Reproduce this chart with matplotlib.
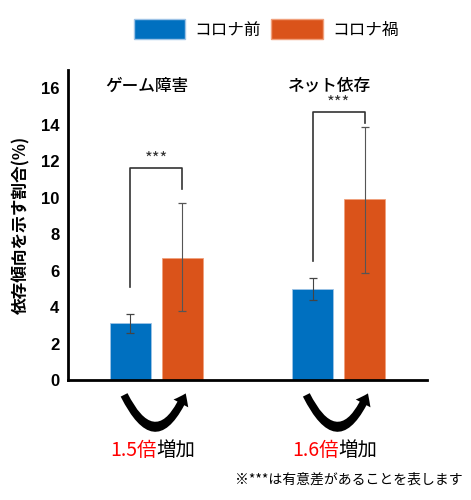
import numpy as np
import matplotlib
matplotlib.use('Agg')
import matplotlib.pyplot as plt
from matplotlib.patches import Patch
from matplotlib.transforms import blended_transform_factory

plt.rcParams['font.family'] = ['Noto Sans CJK JP', 'DejaVu Sans']

groups = ['ゲーム障害', 'ネット依存']
series = ['コロナ前', 'コロナ禍']
before = [3.1, 5.0]
before_lo = [2.6, 4.4]
before_hi = [3.6, 5.6]
during = [6.7, 9.9]
during_lo = [3.8, 5.85]
during_hi = [9.7, 13.9]
ratio = ['1.5', '1.6']
# *** bracket: left leg bottom, top, right leg bottom
br_left = [5.1, 6.55]
br_top = [11.6, 14.7]
br_right = [10.5, 14.1]
yticks = [0, 2, 4, 6, 8, 10, 12, 14, 16]

c_before = '#0070C0'
c_during = '#DA531A'

fig = plt.figure(figsize=(4.71, 5.0), dpi=100)
ax = fig.add_axes([0.144, 0.24, 0.763, 0.62])

x = np.arange(len(groups))
off = 0.143
w = 0.225

def err(v, lo, hi):
    return [np.array(v) - np.array(lo), np.array(hi) - np.array(v)]

ax.bar(x - off, before, w, color=c_before, edgecolor='#9ec3e6', linewidth=0.6, zorder=2)
ax.bar(x + off, during, w, color=c_during, edgecolor='#f0a07c', linewidth=0.6, zorder=2)
ax.errorbar(x - off, before, yerr=err(before, before_lo, before_hi), fmt='none',
            ecolor='#444444', elinewidth=0.8, capsize=3, capthick=0.9, zorder=3)
ax.errorbar(x + off, during, yerr=err(during, during_lo, during_hi), fmt='none',
            ecolor='#555555', elinewidth=0.8, capsize=3, capthick=0.9, zorder=3)

# significance brackets
for i in range(len(groups)):
    xl, xr = x[i] - off, x[i] + off
    ax.plot([xl, xl, xr, xr], [br_left[i], br_top[i], br_top[i], br_right[i]],
            color='#333333', lw=1.2, zorder=3)
    ax.text(x[i], br_top[i] + 0.5, '***', ha='center', va='center', fontsize=12, color='#333333')
    ax.text(x[i] - 0.05, 16.15, groups[i], ha='center', va='center', fontsize=12, fontweight='medium')

ax.set_ylim(0, 17)
ax.set_xlim(-0.486, 1.486)
ax.set_yticks(yticks)
ax.set_yticklabels([str(t) for t in yticks], fontfamily='Liberation Sans', fontweight='bold', fontsize=12)
ax.set_xticks([])
ax.tick_params(axis='y', length=0, pad=6)
for s in ['top', 'right']:
    ax.spines[s].set_visible(False)
ax.spines['left'].set_linewidth(2)
ax.spines['bottom'].set_linewidth(2)
ax.set_ylabel('依存傾向を示す割合(%)', fontsize=12, fontweight='bold', labelpad=8)

# curved arrows and ratio text below bars
tr = blended_transform_factory(ax.transData, ax.transAxes)
for i in range(len(groups)):
    ax.annotate('', xy=(x[i] + 0.167, -0.035), xytext=(x[i] - 0.184, -0.04),
                xycoords=tr, textcoords=tr, annotation_clip=False,
                arrowprops=dict(arrowstyle='simple,head_width=1.2,head_length=0.8,tail_width=0.55',
                                connectionstyle='arc3,rad=1.1', color='black', lw=0))
    ax.text(x[i], -0.226, ratio[i] + '倍', transform=tr, ha='right', va='center',
            fontsize=14, color='#FF0000')
    ax.text(x[i], -0.226, '増加', transform=tr, ha='left', va='center',
            fontsize=14, color='black')

handles = [Patch(facecolor=c_before, edgecolor='#9ec3e6'), Patch(facecolor=c_during, edgecolor='#f0a07c')]
fig.legend(handles, series, loc='center', bbox_to_anchor=(0.565, 0.942), ncol=2, frameon=False,
           fontsize=12, handlelength=3.1, handleheight=1.45, handletextpad=0.55, columnspacing=0.6)

fig.text(0.983, 0.04, '※***は有意差があることを表します', ha='right', va='center', fontsize=10)

fig.savefig('out.png', dpi=100)
